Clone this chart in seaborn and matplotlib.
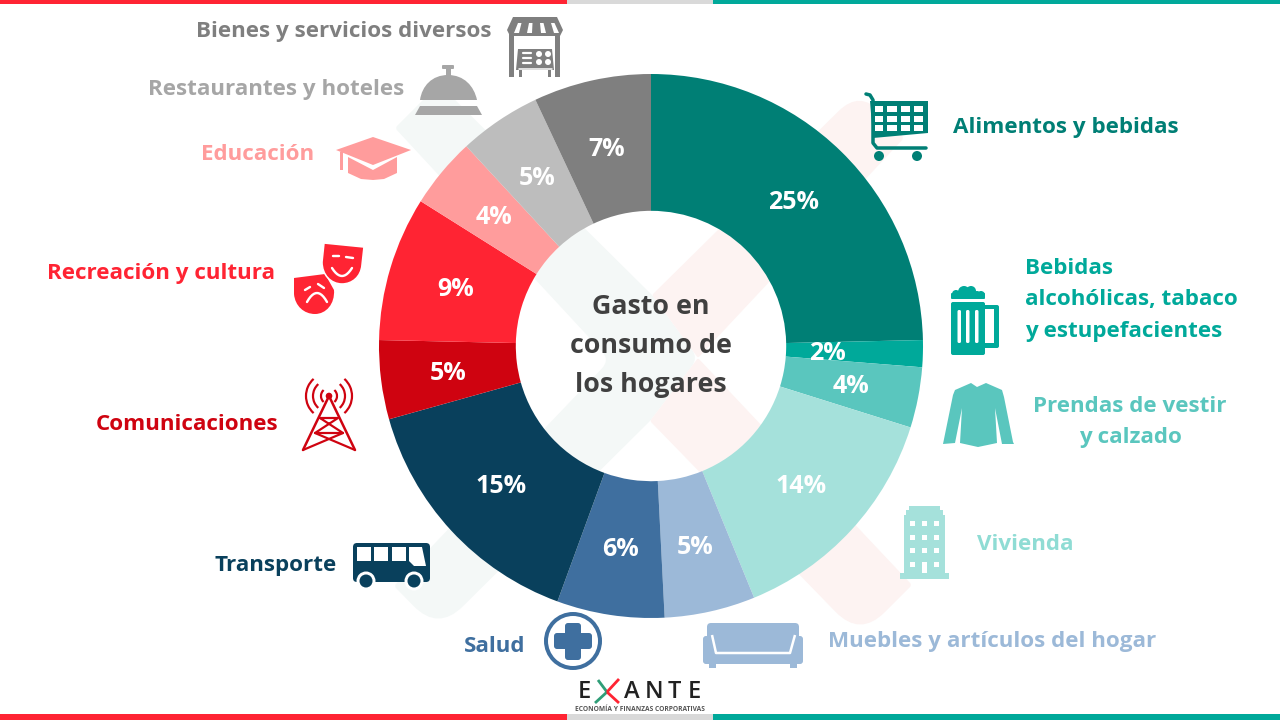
import numpy as np
import matplotlib
matplotlib.use("Agg")
import matplotlib.pyplot as plt
import seaborn as sns
from matplotlib.patches import Rectangle, Circle, Polygon, PathPatch, FancyBboxPatch, Arc
from matplotlib.path import Path

# Chart data
categories = ["Alimentos y bebidas", "Bebidas\nalcohólicas, tabaco\ny estupefacientes",
              "Prendas de vestir\ny calzado", "Vivienda", "Muebles y artículos del hogar",
              "Salud", "Transporte", "Comunicaciones", "Recreación y cultura", "Educación",
              "Restaurantes y hoteles", "Bienes y servicios diversos"]
shares = [24.7, 1.6, 3.6, 14.0, 5.4, 6.4, 15.1, 4.7, 8.6, 4.2, 4.9, 7.0]
wedge_hex = ["#007f75", "#00a99a", "#5ac6be", "#a5e1db", "#9cb9d8", "#3f6f9f",
             "#09405c", "#cf0310", "#ff2433", "#ff9c9c", "#bdbdbd", "#7f7f7f"]
text_hex = ["#007f75", "#00a99a", "#5ac6be", "#8fdcd4", "#9cb9d8", "#3f6f9f",
            "#09405c", "#cf0310", "#ff2433", "#ff9c9c", "#a6a6a6", "#7f7f7f"]
center_title = "Gasto en\nconsumo de\nlos hogares"

# Layout of the outer labels, in pixels of the 1280x720 picture
label_xy = [(1066, 128), (1131, 300), (1130, 422), (1025, 545), (992, 642), (495, 647),
            (276, 566), (187, 425), (161, 274), (258, 155), (276, 90), (344, 32)]
label_align = ["center", "left", "center", "center", "center", "center",
               "center", "center", "center", "center", "center", "center"]

RED, GREY, TEAL = "#ff2433", "#d9d9d9", "#00a99a"
FONT = "Open Sans"

sns.set_theme(style="white")
plt.rcParams["font.family"] = [FONT, "DejaVu Sans"]
palette = sns.color_palette(wedge_hex)

fig = plt.figure(figsize=(12.8, 7.2), dpi=100)
bg = fig.add_axes([0, 0, 1, 1])
bg.set_xlim(0, 1280)
bg.set_ylim(720, 0)
bg.axis("off")


def px(w):
    # line width in points for a width in pixels
    return w * 0.72


def rounded_poly(points, radii):
    verts, codes = [], []
    n = len(points)
    for i in range(n):
        p = np.array(points[i], float)
        a = np.array(points[i - 1], float)
        b = np.array(points[(i + 1) % n], float)
        r = radii[i]
        p1 = p + (a - p) / np.linalg.norm(a - p) * r
        p2 = p + (b - p) / np.linalg.norm(b - p) * r
        verts.append(p1)
        codes.append(Path.MOVETO if i == 0 else Path.LINETO)
        verts += [p, p2]
        codes += [Path.CURVE3, Path.CURVE3]
    verts.append(verts[0])
    codes.append(Path.CLOSEPOLY)
    return Path(verts, codes)


def rbox(x0, y0, x1, y1, color, r=2, z=3):
    bg.add_patch(FancyBboxPatch((x0 + r, y0 + r), x1 - x0 - 2 * r, y1 - y0 - 2 * r,
                                boxstyle=f"round,pad={r},rounding_size={r}",
                                fc=color, ec="none", zorder=z))


def rect(x0, y0, x1, y1, color, z=3):
    bg.add_patch(Rectangle((x0, y0), x1 - x0, y1 - y0, fc=color, ec="none", zorder=z))


def line(xs, ys, color, w, z=3, cap="round"):
    bg.plot(xs, ys, color=color, lw=px(w), solid_capstyle=cap, solid_joinstyle="round", zorder=z)


def poly(points, color, z=3):
    bg.add_patch(Polygon(points, closed=True, fc=color, ec="none", zorder=z))


def disc(x, y, r, color, z=3):
    bg.add_patch(Circle((x, y), r, fc=color, ec="none", zorder=z))


# Top and bottom bands
for y0, y1 in [(0, 4), (714, 720)]:
    rect(0, y0, 567, y1, RED, z=1)
    rect(567, y0, 713, y1, GREY, z=1)
    rect(713, y0, 1280, y1, TEAL, z=1)

# Pale X watermark behind the ring
green_x = [(395, 128), (439, 84), (652, 295), (698, 358), (650, 421), (438, 631), (394, 586), (610, 360)]
green_r = [3, 6, 2, 10, 2, 35, 3, 12]
pink_top = [(652, 295), (860, 90), (904, 138), (698, 358)]
pink_top_r = [2, 30, 3, 2]
pink_low = [(698, 358), (912, 585), (860, 637), (650, 421)]
pink_low_r = [2, 3, 35, 2]
bg.add_patch(PathPatch(rounded_poly(green_x, green_r), fc="#f4f8f7", ec="none", zorder=1))
bg.add_patch(PathPatch(rounded_poly(pink_top, pink_top_r), fc="#fdf3f2", ec="none", zorder=1))
bg.add_patch(PathPatch(rounded_poly(pink_low, pink_low_r), fc="#fdf3f2", ec="none", zorder=1))

# Donut
R = 272
ax = fig.add_axes([(651 - 1.25 * R) / 1280, (720 - 346 - 1.25 * R) / 720,
                   2.5 * R / 1280, 2.5 * R / 720])
ax.patch.set_alpha(0)
wedges, _, pct_texts = ax.pie(shares, colors=palette, startangle=90, counterclock=False,
                              radius=1, autopct="%.0f%%", pctdistance=0.75,
                              wedgeprops={"width": 0.503, "linewidth": 0},
                              textprops={"color": "white", "fontsize": 18, "fontweight": "bold"})
for t in pct_texts:
    x, y = t.get_position()
    t.set_position((x, y - 0.008))
# the 2% slice is too thin, its label sits further in
mid = np.deg2rad(90 - 360 * (shares[0] + shares[1] / 2) / sum(shares))
pct_texts[1].set_position((0.65 * np.cos(mid), 0.65 * np.sin(mid) - 0.008))
ax.text(0, 0.0, center_title, ha="center", va="center", color="#404040",
        fontsize=19.3, fontweight="bold", linespacing=1.63)

# Outer labels
for name, (x, y), align, col in zip(categories, label_xy, label_align, text_hex):
    spacing = 1.63 if "\n" in name else 1.2
    bg.text(x, y, name, ha="center", va="center", multialignment=align, color=col,
            fontsize=16.1, fontweight="bold", linespacing=spacing, zorder=4)

# Cart
c = text_hex[0]
line([866, 870, 873, 873, 877, 926], [94, 95, 100, 143, 148, 148], c, 3.5)
poly([(870, 101), (928, 101), (928, 133), (873, 138)], c)
for x0, x1 in [(875, 883), (887, 897), (901, 910), (914, 923)]:
    for y0, y1 in [(106, 112), (116, 122), (125, 131)]:
        rect(x0, y0, x1, y1, "white", z=4)
disc(879, 156, 5, c)
disc(917, 156, 5, c)

# Beer mug
c = text_hex[1]
rbox(951, 302, 985, 355, c)
rbox(980, 305, 999, 348, c)
rect(985, 309, 994, 343, "white", z=4)
for x0 in [957.5, 966, 975]:
    rbox(x0, 310, x0 + 3.5, 343, "white", r=1.5, z=4)
for x, y, r in [(956, 294, 4), (964, 292, 6), (971, 291, 5), (977, 295, 4), (981, 295, 4)]:
    disc(x, y, r, c)
rbox(951, 293, 985, 299, c, r=1)

# Shirt
poly([(971, 383), (977, 387), (986, 383), (1002, 390), (1004, 397), (1013, 442), (1014, 444),
      (1002, 444), (995, 408), (997, 443), (978, 447), (960, 443), (962, 408), (955, 443),
      (943, 444), (953, 395), (955, 390)], text_hex[2])

# Building
c = wedge_hex[3]
rect(909, 506, 940, 511, c)
rect(906, 510, 943, 516, c)
rect(904, 515, 945, 574, c)
rect(900, 573, 949, 579, c)
for x0 in [910, 922, 934]:
    for y0 in [521, 535, 548, 562]:
        rect(x0, y0, x0 + 5, y0 + 5, "white", z=4)
rect(922, 562, 927, 573, "white", z=4)

# Sofa
c = text_hex[4]
rbox(707, 623, 799, 656, c, r=4)
rbox(703, 636, 714, 664, c, r=3)
rbox(792, 636, 803, 664, c, r=3)
rect(706, 655, 800, 664, c)
rect(709, 663, 716, 668, c)
rect(790, 663, 797, 668, c)
line([712, 716, 790, 795], [635, 653, 653, 635], "white", 2.5, z=4, cap="butt")

# Health cross
c = text_hex[5]
bg.add_patch(Circle((573, 641), 27, fc="white", ec=c, lw=px(4), zorder=3))
rbox(554, 633, 592, 649, c, r=3, z=4)
rbox(565, 623, 581, 660, c, r=3, z=4)

# Bus
c = text_hex[6]
rbox(353, 543, 430, 582, c, r=4)
for x0, x1 in [(357, 371), (374, 388), (392, 406)]:
    rect(x0, 547, x1, 561, "white", z=4)
poly([(409, 547), (422, 547), (426, 566), (414, 566), (409, 561)], "white", z=4)
for x in [366, 414]:
    disc(x, 581, 9.5, "white", z=4)
    disc(x, 581, 6.5, c, z=5)

# Tower
c = text_hex[7]
disc(329, 396, 3.3, c)
line([303, 329, 355], [450, 396, 450], c, 2.5)
line([320, 338, 315, 343, 320], [418, 418, 433, 433, 418], c, 2.2)
line([315, 355], [433, 450], c, 2.2)
line([343, 303], [433, 450], c, 2.2)
for r in [8, 16, 23]:
    for a0, a1 in [(-48, 48), (132, 228)]:
        bg.add_patch(Arc((329, 396), 2 * r, 2 * r, theta1=a0, theta2=a1, ec=c, lw=px(2.2), zorder=3))

# Theatre masks
c = text_hex[8]
sad = Path([(294, 278), (325, 274), (334, 290), (335, 304), (326, 314), (315, 314),
            (304, 314), (295, 306), (294, 294), (294, 278)],
           [Path.MOVETO, Path.LINETO, Path.LINETO, Path.CURVE4, Path.CURVE4, Path.CURVE4,
            Path.CURVE4, Path.CURVE4, Path.CURVE4, Path.CLOSEPOLY])
happy = Path([(324, 243), (364, 247), (362, 265), (361, 277), (352, 284), (342, 284),
              (331, 284), (322, 275), (322, 262), (324, 243)],
             [Path.MOVETO, Path.LINETO, Path.LINETO, Path.CURVE4, Path.CURVE4, Path.CURVE4,
              Path.CURVE4, Path.CURVE4, Path.CURVE4, Path.CLOSEPOLY])
bg.add_patch(PathPatch(sad, fc=c, ec="none", zorder=3))
bg.add_patch(PathPatch(happy, fc=c, ec="white", lw=px(1.6), zorder=4))
line([333, 339], [256, 256], "white", 2.4, z=5)
line([346, 353], [257, 258], "white", 2.4, z=5)
line([305, 310], [290, 287], "white", 2.4, z=5)
line([318, 324], [284, 288], "white", 2.4, z=5)
arc_t = np.linspace(0, 1, 12)
line(332 + 20 * arc_t, 268 + 32 * arc_t * (1 - arc_t), "white", 2.4, z=5)
line(307 + 20 * arc_t, 302 - 36 * arc_t * (1 - arc_t), "white", 2.4, z=5)

# Graduation cap
c = text_hex[9]
poly([(348, 157), (373, 170), (397, 157), (397, 173), (384, 179), (373, 180), (361, 179), (348, 173)], c)
poly([(336, 150), (373, 137), (411, 150), (373, 165)], c, z=4)
rect(340, 152, 343, 170, c)

# Bell
c = text_hex[10]
bg.add_patch(PathPatch(Path([(420, 100), (422, 86), (432, 75), (448, 75), (464, 75), (474, 86),
                             (477, 100), (420, 100)],
                            [Path.MOVETO, Path.CURVE4, Path.CURVE4, Path.CURVE4, Path.CURVE4,
                             Path.CURVE4, Path.CURVE4, Path.CLOSEPOLY]), fc=c, ec="none", zorder=3))
rect(445.5, 68, 450.5, 76, c)
rbox(442, 65, 454, 69, c, r=1)
poly([(420, 106), (477, 106), (482, 115), (415, 115)], c)

# Store
c = text_hex[11]
rect(509, 30, 514, 77, c)
rect(555, 30, 560, 77, c)
poly([(513, 17), (557, 17), (563, 30), (560, 36), (510, 36), (507, 30)], c)
for xb, xt in [(514, 518), (527, 529), (541, 540), (554, 551)]:
    poly([(xt, 23), (xt + 3.5, 23), (xb + 5, 33), (xb, 33)], "white", z=4)
poly([(518, 49), (552, 49), (554, 70), (516, 70)], c)
rect(519, 70, 522, 77, c)
rect(548, 70, 551, 77, c)
for y in [53, 58, 63]:
    line([523, 531], [y, y], "white", 2.2, z=4)
for x in [539, 548]:
    for y in [54, 62]:
        disc(x, y, 3, "white", z=4)
line([519, 552], [69, 69], "white", 1.5, z=4)

# Logo
for letter, x in zip("EANTE", [584, 632, 654, 674.5, 694.5]):
    bg.text(x, 692, letter, ha="center", va="center", color="#222222", fontsize=17,
            fontweight="semibold", zorder=4)
line([598, 607], [680, 692], "#2f9e78", 2.8, z=4, cap="butt")
line([607, 595], [692, 703], "#2f9e78", 2.8, z=4, cap="butt")
line([607, 619], [692, 679], RED, 2.8, z=4, cap="butt")
line([607, 619], [692, 703], RED, 2.8, z=4, cap="butt")
bg.text(640, 709.5, "ECONOMÍA Y FINANZAS CORPORATIVAS", ha="center", va="center", color="#555555",
        fontsize=4.8, fontweight="bold", zorder=4)

fig.savefig("out.png", dpi=100)
